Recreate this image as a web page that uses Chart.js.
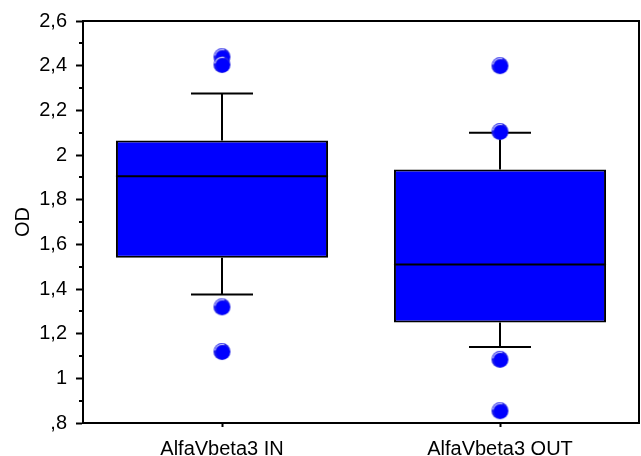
<!DOCTYPE html>
<html>
<head>
<meta charset="utf-8">
<script src="https://cdn.jsdelivr.net/npm/chart.js@4"></script>
<style>
  html, body { margin: 0; padding: 0; background: #ffffff; }
  #wrap { width: 641px; height: 456px; }
</style>
</head>
<body>
<div id="wrap"><canvas id="c" width="641" height="456"></canvas></div>
<script>
// ---- data ----
const categories = ['AlfaVbeta3 IN', 'AlfaVbeta3 OUT'];
const q1 = [1.54, 1.25];
const q3 = [2.065, 1.935];
const medians = [1.905, 1.51];
const whiskerLow = [1.375, 1.14];
const whiskerHigh = [2.275, 2.10];
const outliersIn = [2.44, 2.405, 1.32, 1.12];
const outliersOut = [2.40, 2.105, 1.085, 0.855];
const yMin = 0.8, yMax = 2.6, yStep = 0.2, yMinorStep = 0.1;

function fmtTick(v) {
  const r = Math.round(v * 10) / 10;
  let s = String(r).replace('.', ',');
  if (s.startsWith('0,')) s = s.slice(1);
  return s;
}

// shaded marker like the reference
function makeDot(r) {
  const c = document.createElement('canvas');
  const d = Math.ceil(r * 2 + 2);
  c.width = d; c.height = d;
  const g = c.getContext('2d');
  const cx = d / 2, cy = d / 2;
  g.beginPath(); g.arc(cx, cy, r, 0, Math.PI * 2);
  g.fillStyle = '#1e1ee6'; g.fill();
  g.beginPath(); g.arc(cx + 0.8, cy + 0.8, r - 1.6, 0, Math.PI * 2);
  g.fillStyle = '#0000ff'; g.fill();
  g.beginPath(); g.arc(cx, cy, r - 1.3, Math.PI * 1.05, Math.PI * 1.6);
  g.strokeStyle = 'rgba(200,200,255,0.95)'; g.lineWidth = 1.3; g.stroke();
  return c;
}
const dot = makeDot(8.5);

const outlierPoints = [];
outliersIn.forEach(v => outlierPoints.push({ x: categories[0], y: v }));
outliersOut.forEach(v => outlierPoints.push({ x: categories[1], y: v }));

const boxPlugin = {
  id: 'boxParts',
  afterDatasetDraw(chart, args) {
    if (args.index !== 0) return;
    const ctx = chart.ctx;
    const xs = chart.scales.x, ys = chart.scales.y;
    const meta = chart.getDatasetMeta(0);
    ctx.save();
    ctx.strokeStyle = '#000';
    ctx.lineWidth = 2;
    categories.forEach((cat, i) => {
      const bar = meta.data[i];
      const cx = Math.round(xs.getPixelForValue(i));
      const half = bar.width / 2;
      const capHalf = 31;
      const yq1 = ys.getPixelForValue(q1[i]);
      const yq3 = ys.getPixelForValue(q3[i]);
      const ylo = ys.getPixelForValue(whiskerLow[i]);
      const yhi = ys.getPixelForValue(whiskerHigh[i]);
      const ymed = ys.getPixelForValue(medians[i]);
      ctx.beginPath();
      ctx.moveTo(cx, yq3); ctx.lineTo(cx, yhi);
      ctx.moveTo(cx - capHalf, yhi); ctx.lineTo(cx + capHalf, yhi);
      ctx.moveTo(cx, yq1); ctx.lineTo(cx, ylo);
      ctx.moveTo(cx - capHalf, ylo); ctx.lineTo(cx + capHalf, ylo);
      ctx.moveTo(bar.x - half, ymed); ctx.lineTo(bar.x + half, ymed);
      ctx.stroke();
    });
    ctx.restore();
  },
  afterDraw(chart) {
    const ctx = chart.ctx;
    const a = chart.chartArea;
    const ys = chart.scales.y;
    ctx.save();
    ctx.strokeStyle = '#000';
    ctx.lineWidth = 2;
    ctx.strokeRect(a.left, a.top, a.right - a.left, a.bottom - a.top);
    ctx.beginPath();
    for (let v = yMin + yMinorStep; v < yMax; v += yStep) {
      const y = Math.round(ys.getPixelForValue(v));
      ctx.moveTo(a.left - 4, y); ctx.lineTo(a.left, y);
    }
    ctx.stroke();
    ctx.restore();
  }
};

const FONT = { family: '"Liberation Sans", Arial, sans-serif', size: 20 };

new Chart(document.getElementById('c'), {
  data: {
    labels: categories,
    datasets: [
      {
        type: 'bar',
        order: 2,
        data: q1.map((v, i) => [v, q3[i]]),
        backgroundColor: '#0000ff',
        borderColor: '#000000',
        borderWidth: 2,
        borderSkipped: false,
        categoryPercentage: 1,
        barPercentage: 0.763
      },
      {
        type: 'line',
        order: 1,
        data: outlierPoints,
        showLine: false,
        clip: false,
        pointStyle: dot,
        pointRadius: 8,
        pointHoverRadius: 8
      }
    ]
  },
  options: {
    responsive: false,
    animation: false,
    events: [],
    layout: { autoPadding: false, padding: { left: 0, right: 2, top: 21, bottom: 0 } },
    plugins: { legend: { display: false }, tooltip: { enabled: false } },
    scales: {
      x: {
        type: 'category',
        offset: true,
        grid: { offset: false, drawOnChartArea: false, tickLength: 4, tickWidth: 2, tickColor: '#000' },
        border: { display: true, color: '#000', width: 2 },
        ticks: { color: '#000', font: FONT, padding: 10, maxRotation: 0, autoSkip: false },
        afterFit(s) { s.height = 33; s.paddingLeft = 0; s.paddingRight = 0; }
      },
      y: {
        min: yMin,
        max: yMax,
        grid: { drawOnChartArea: false, tickLength: 7, tickWidth: 2, tickColor: '#000' },
        border: { display: true, color: '#000', width: 2 },
        ticks: { stepSize: yStep, color: '#000', font: FONT, padding: 9, callback: v => fmtTick(v) },
        title: { display: true, text: 'OD', color: '#000', font: FONT, padding: { top: 11, bottom: 0 } },
        afterFit(s) { s.width = 83; s.paddingTop = 0; s.paddingBottom = 0; }
      }
    }
  },
  plugins: [boxPlugin]
});
</script>
</body>
</html>
